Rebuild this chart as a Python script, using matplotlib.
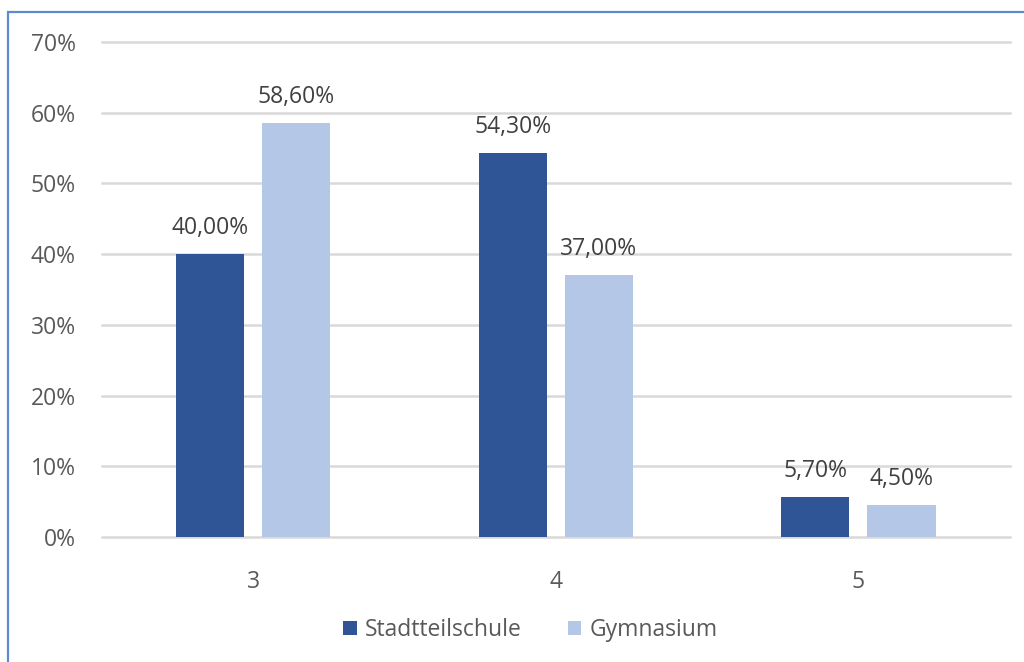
import numpy as np
import matplotlib.pyplot as plt
from matplotlib.patches import Rectangle

kategorien = ['3', '4', '5']
stadtteilschule = [40.0, 54.3, 5.7]
gymnasium = [58.6, 37.0, 4.5]
serien = ['Stadtteilschule', 'Gymnasium']
y_ticks = [0, 10, 20, 30, 40, 50, 60, 70]

plt.rcParams['font.family'] = ['Open Sans', 'DejaVu Sans']
grau = '#595959'
fs = 16.5

fig = plt.figure(figsize=(10.24, 6.62), dpi=100)
ax = fig.add_axes([0.0996, 0.1888, 0.8864, 0.7478])

x = np.arange(len(kategorien))
breite = 0.225
versatz = 0.1425
b1 = ax.bar(x - versatz, stadtteilschule, breite, color='#2F5597', label=serien[0], zorder=3)
b2 = ax.bar(x + versatz, gymnasium, breite, color='#B4C7E7', label=serien[1], zorder=3)

for balken in (b1, b2):
    labels = [('%.2f%%' % v).replace('.', ',') for v in balken.datavalues]
    ax.bar_label(balken, labels=labels, padding=10, fontsize=fs, color='#404040')

ax.set_xlim(-0.5, 2.5)
ax.set_ylim(0, 70)
ax.set_yticks(y_ticks)
ax.set_yticklabels(['%d%%' % t for t in y_ticks])
ax.set_xticks(x)
ax.set_xticklabels(kategorien)
ax.tick_params(axis='both', length=0, labelsize=fs, labelcolor=grau)
ax.tick_params(axis='y', pad=19)
ax.tick_params(axis='x', pad=24)
ax.grid(axis='y', color='#d9d9d9', linewidth=1.8, zorder=0)
for g in ax.get_ygridlines():
    g.set_clip_on(False)
ax.set_axisbelow(True)
for s in ax.spines.values():
    s.set_visible(False)

fig.legend(loc='center', bbox_to_anchor=(0.518, 0.048), ncol=2, frameon=False,
           fontsize=fs, labelcolor=grau, handlelength=0.6, handleheight=0.6,
           handletextpad=0.35, columnspacing=2.0)

# Rahmen (nur links und oben sichtbar)
fig.patches.append(Rectangle((8 / 1024, -0.1), 1.2, 1 - 12 / 662 + 0.1,
                             transform=fig.transFigure, fill=False,
                             edgecolor='#5B8BD0', linewidth=1.6))

fig.savefig('out.png', dpi=100)
